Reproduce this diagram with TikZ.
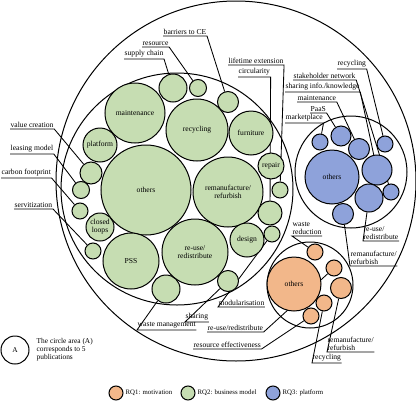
\documentclass[tikz,border=0pt]{standalone}
\usepackage{fontspec}
\setmainfont{Liberation Serif}
\usetikzlibrary{backgrounds}
\definecolor{rqgreen}{RGB}{198,221,178}
\definecolor{rqblue}{RGB}{142,162,218}
\definecolor{rqorange}{RGB}{242,183,138}
\tikzset{
  bub/.style={circle,draw,line width=1pt,inner sep=0pt,align=center,font=\fontsize{7.6}{8}\selectfont},
  gbub/.style={bub,fill=rqgreen},
  bbub/.style={bub,fill=rqblue},
  obub/.style={bub,fill=rqorange},
  grp/.style={circle,draw,line width=1pt,inner sep=0pt},
  lab/.style={anchor=south west,inner xsep=0.5pt,inner ysep=1.2pt,align=left,font=\fontsize{7.6}{8.2}\selectfont},
  keylab/.style={anchor=west,inner xsep=2pt,font=\fontsize{6.8}{7.4}\selectfont},
  lead/.style={line width=0.85pt}
}

\begin{document}
\begin{tikzpicture}[x=1pt,y=-1pt]
	\useasboundingbox (0,0) rectangle (416,400);
	\node[grp,minimum size=360] (all) at (236,181) {};
	\node[grp,minimum size=232] (green) at (177,189) {};
	\node[grp,minimum size=112] (blue) at (351,172) {};
	\node[grp,minimum size=86] (orange) at (310,285) {};
	% business model
	\node[gbub,minimum size=60] (gMaint) at (135,113) {maintenance};
	\node[gbub,minimum size=62] (gRecyc) at (197,130) {recycling};
	\node[gbub,minimum size=44] (gFurn) at (251,133) {furniture};
	\node[gbub,minimum size=34] (gPlat) at (100,145) {platform};
	\node[gbub,minimum size=90] (gOthers) at (146,190) {others};
	\node[gbub,minimum size=70] (gReman) at (228,192) {remanufacture/\\refurbish};
	\node[gbub,minimum size=26] (gRepair) at (271,166) {repair};
	\node[gbub,minimum size=28] (gLoops) at (100,227) {closed\\loops};
	\node[gbub,minimum size=56] (gPSS) at (131,261) {PSS};
	\node[gbub,minimum size=66] (gReuse) at (195,252) {re-use/\\redistribute};
	\node[gbub,minimum size=34] (gDesign) at (247,240) {design};
	\node[gbub,minimum size=28] (gSupply) at (173,88) {};
	\node[gbub,minimum size=17] (gRes) at (198,88) {};
	\node[gbub,minimum size=21] (gBarr) at (228,102) {};
	\node[gbub,minimum size=22] (gValue) at (91,173) {};
	\node[gbub,minimum size=17] (gLease) at (81,190) {};
	\node[gbub,minimum size=16] (gCarbon) at (80,211) {};
	\node[gbub,minimum size=16] (gServ) at (93,251) {};
	\node[gbub,minimum size=28] (gWaste) at (166,289) {};
	\node[gbub,minimum size=21] (gShare) at (228,281) {};
	\node[gbub,minimum size=16] (gModul) at (272,234) {};
	\node[gbub,minimum size=24] (gCirc) at (270,213) {};
	\node[gbub,minimum size=16] (gLife) at (280,190) {};
	% platform
	\node[bbub,minimum size=54] (bOthers) at (332,177) {others};
	\node[bbub,minimum size=16] (bMarket) at (320,142) {};
	\node[bbub,minimum size=20] (bPaas) at (341,136) {};
	\node[bbub,minimum size=21] (bMaint) at (359,149) {};
	\node[bbub,minimum size=16] (bRecyc) at (385,144) {};
	\node[bbub,minimum size=30] (bShare) at (377,170) {};
	\node[bbub,minimum size=16] (bStake) at (391,192) {};
	\node[bbub,minimum size=28] (bReuse) at (369,198) {};
	\node[bbub,minimum size=21] (bReman) at (343,214) {};
	% motivation
	\node[obub,minimum size=54] (oOthers) at (294,284) {others};
	\node[obub,minimum size=16] (oWaste) at (315,252) {};
	\node[obub,minimum size=16] (oReuse) at (334,268) {};
	\node[obub,minimum size=21] (oReman) at (341,288) {};
	\node[obub,minimum size=16] (oRecyc) at (324,303) {};
	\node[obub,minimum size=16] (oResEff) at (311,316) {};
	% labels
	\node[lab] (tValue) at (10,129) {value creation};
	\node[lab] (tLease) at (10,154) {leasing model};
	\node[lab] (tCarbon) at (1,178) {carbon footprint};
	\node[lab] (tServ) at (14,209) {servitization};
	\node[lab] (tBarr) at (163,36) {barriers to CE};
	\node[lab] (tRes) at (142,47) {resource};
	\node[lab] (tSupply) at (124,59) {supply chain};
	\node[lab] (tLife) at (228,65) {lifetime extension};
	\node[lab] (tCirc) at (238,77) {circularity};
	\node[lab] (tModul) at (218,307) {modularisation};
	\node[lab] (tShare) at (185,322) {sharing};
	\node[lab] (tWaste) at (137,330) {waste management};
	\node[lab] (uRecyc) at (337,69) {recycling};
	\node[lab] (uStake) at (293,80) {stakeholder network};
	\node[lab] (uShare) at (285,92) {sharing info./knowledge};
	\node[lab] (uMaint) at (297,102) {maintenance};
	\node[lab] (uPaas) at (310,113) {PaaS};
	\node[lab] (uMarket) at (285,123) {marketplace};
	\node[lab] (uReuse) at (363,241) {re-use/\\redistribute};
	\node[lab] (uReman) at (350,266) {remanufacture/\\refurbish};
	\node[lab] (vWaste) at (292,236) {waste\\reduction};
	\node[lab] (vReman) at (327,352) {remanufacture/\\refurbish};
	\node[lab] (vRecyc) at (312,363) {recycling};
	\node[lab] (vReuse) at (207,332) {re-use/redistribute};
	\node[lab] (vResEff) at (193,349) {resource effectiveness};
	\begin{scope}[on background layer]
	\draw[lead] (tValue.south west) -- (tValue.south east) -- (gValue);
	\draw[lead] (tLease.south west) -- (tLease.south east) -- (gLease);
	\draw[lead] (tCarbon.south west) -- (tCarbon.south east) -- (gCarbon);
	\draw[lead] (tServ.south west) -- (tServ.south east) -- (gServ);
	\draw[lead] (tBarr.south west) -- (tBarr.south east) -- (gBarr);
	\draw[lead] (tRes.south west) -- (tRes.south east) -- (gRes);
	\draw[lead] (tSupply.south west) -- (tSupply.south east) -- (gSupply);
	\draw[lead] (tLife.south west) -- (tLife.south east) -- (gLife);
	\draw[lead] (tCirc.south west) -- (tCirc.south east) -- (gCirc);
	\draw[lead] (tModul.south east) -- (tModul.south west) -- (gModul);
	\draw[lead] (tShare.south east) -- (tShare.south west) -- (gShare);
	\draw[lead] (tWaste.south east) -- (tWaste.south west) -- (gWaste);
	\draw[lead] (uRecyc.south west) -- (uRecyc.south east) -- (bRecyc);
	\draw[lead] (uStake.south west) -- (uStake.south east) -- (bStake);
	\draw[lead] (uShare.south west) -- (uShare.south east) -- (bShare);
	\draw[lead] (uMaint.south west) -- (uMaint.south east) -- (bMaint);
	\draw[lead] (uPaas.south west) -- (uPaas.south east) -- (bPaas);
	\draw[lead] (uMarket.south west) -- (uMarket.south east) -- (bMarket);
	\draw[lead] (uReuse.south east) -- (uReuse.south west) -- (bReuse);
	\draw[lead] (uReman.south east) -- (uReman.south west) -- (bReman);
	\draw[lead] (vWaste.south east) -- (vWaste.south west) -- (oWaste);
	\draw[lead] (vReman.south east) -- (vReman.south west) -- (oReman);
	\draw[lead] (vRecyc.south east) -- (vRecyc.south west) -- (oRecyc);
	\draw[lead] (vReuse.south west) -- (vReuse.south east) -- (oReuse);
	\draw[lead] (vResEff.south west) -- (vResEff.south east) -- (oResEff);
	\end{scope}
	% key
	\node[grp,minimum size=28,font=\fontsize{7.4}{8}\selectfont] (key) at (15,350) {A};
	\node[lab,anchor=west,font=\fontsize{7.4}{8}\selectfont] (keyText) at (36,350) {The circle area (A)\\corresponds to 5\\publications};
	\node[obub,minimum size=14] (keyO) at (116,393) {};
	\node[keylab] (keyOText) at (keyO.east) {RQ1: motivation};
	\node[gbub,minimum size=14] (keyG) at (188,393) {};
	\node[keylab] (keyGText) at (keyG.east) {RQ2: business model};
	\node[bbub,minimum size=14] (keyB) at (273,393) {};
	\node[keylab] (keyBText) at (keyB.east) {RQ3: platform};
\end{tikzpicture}
\end{document}
